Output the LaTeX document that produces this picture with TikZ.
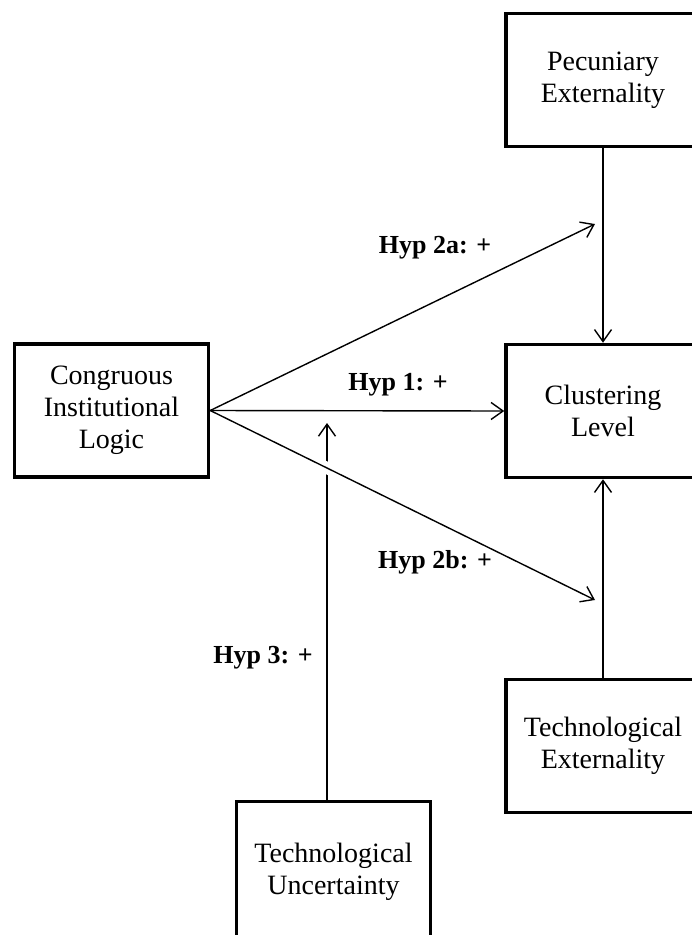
\documentclass[tikz,border=0pt]{standalone}
\usepackage{fontspec}
\setmainfont{Liberation Serif}
\usetikzlibrary{arrows.meta}

\begin{document}
\begin{tikzpicture}[x=1pt,y=-1pt,
  box/.style={draw,line width=3.5pt,minimum width=194pt,minimum height=133pt,align=center,font=\fontsize{28}{32}\selectfont},
  conn/.style={line width=1.4pt,-{Straight Barb[length=12pt,width=17pt,line width=1.4pt]}},
  hyp/.style={font=\fontsize{26}{30}\selectfont\bfseries}]
  \clip (0,0) rectangle (692,935);
  \node[box] (pe) at (603,80) {Pecuniary\\Externality};
  \node[box] (cl) at (603,411) {Clustering\\Level};
  \node[box] (ci) at (111.5,410.5) {Congruous\\Institutional\\Logic};
  \node[box] (te) at (603,746) {Technological\\Externality};
  \node[box,minimum height=140pt] (tu) at (333.5,871.5) {Technological\\Uncertainty};
  \coordinate (h2a) at (595,224);
  \coordinate (h2b) at (595,600);
  \coordinate (h3) at (327,423);
  \draw[conn] (ci.east) -- (cl.west);
  \draw[conn] (ci.east) -- (h2a);
  \draw[conn] (pe.south) -- (cl.north);
  \draw[conn] (te.north) -- (cl.south);
  \draw[conn] (h3 |- tu.north) -- (h3);
  \draw[conn,preaction={draw=white,line width=12pt,-,shorten <=60pt,shorten >=60pt}] (ci.east) -- (h2b);
  \node[hyp] (l1) at (398,385) {Hyp 1: +};
  \node[hyp] (l2a) at (435,248) {Hyp 2a: +};
  \node[hyp] (l2b) at (435,562) {Hyp 2b: +};
  \node[hyp] (l3) at (263,658) {Hyp 3: +};
\end{tikzpicture}
\end{document}
